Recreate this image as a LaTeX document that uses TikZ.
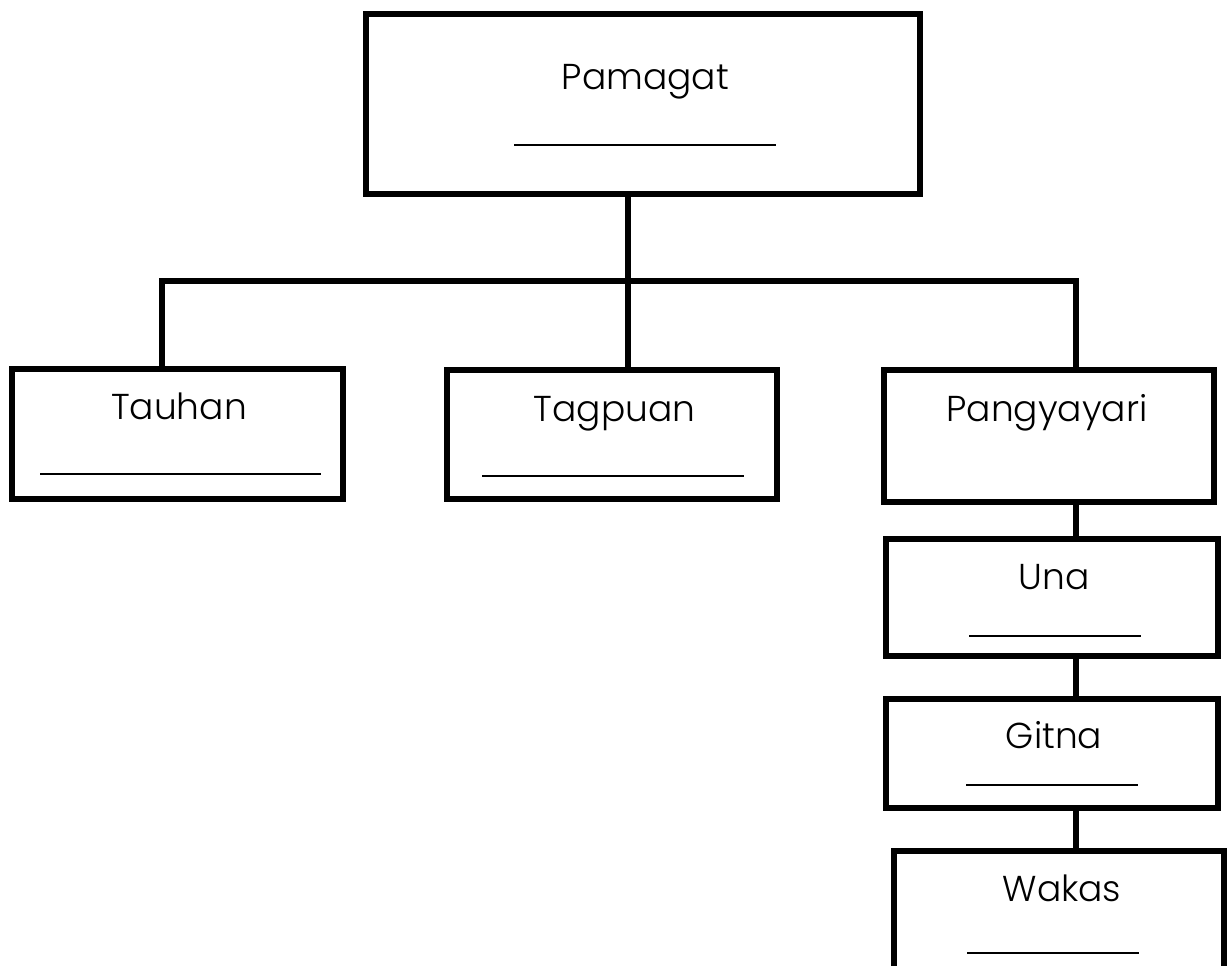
\documentclass[tikz,border=0pt]{standalone}
\usepackage{fontspec}
\setmainfont{Poppins}[UprightFont={* Light}]
\begin{document}
\begin{tikzpicture}[x=0.75pt,y=-0.75pt,
  boxnode/.style={draw=black, line width=4.5pt, inner sep=0pt, line join=miter, fill=none},
  lbl/.style={anchor=base, inner sep=0pt, font=\fontsize{27}{30}\selectfont},
  conn/.style={draw=black, line width=4.5pt, line join=miter},
  blank/.style={draw=black, line width=1.1pt}]
\useasboundingbox (0,0) rectangle (1229,965);
\clip (0,0) rectangle (1229,965);
\fill[white] (0,0) rectangle (1229,965);
% boxes
\node[boxnode, minimum width=415.5pt, minimum height=135pt] (pam) at (643,104) {};
\node[boxnode, minimum width=248.25pt, minimum height=97.5pt] (tau) at (177.5,434) {};
\node[boxnode, minimum width=247.5pt, minimum height=96.75pt] (tag) at (612,434.5) {};
\node[boxnode, minimum width=247.5pt, minimum height=99pt] (pan) at (1049,436) {};
\node[boxnode, minimum width=249pt, minimum height=87.75pt] (una) at (1052,597.5) {};
\node[boxnode, minimum width=249pt, minimum height=81.75pt] (git) at (1052,753.5) {};
\node[boxnode, minimum width=247.5pt, minimum height=120pt] (wak) at (1059,931) {};
% labels
\node[lbl] (tpam) at (645.5,89) {Pamagat};
\node[lbl] (ttau) at (179,419) {Tauhan};
\node[lbl] (ttag) at (614.5,421) {Tagpuan};
\node[lbl] (tpan) at (1047,421) {Pangyayari};
\node[lbl] (tuna) at (1054,589) {Una};
\node[lbl] (tgit) at (1054,748) {Gitna};
\node[lbl] (twak) at (1062,901) {Wakas};
% blanks
\draw[blank] (514,145) -- (776,145);
\draw[blank] (40,474) -- (321,474);
\draw[blank] (482,476) -- (744,476);
\draw[blank] (969,636) -- (1141,636);
\draw[blank] (966,785) -- (1138,785);
\draw[blank] (967,953) -- (1139,953);
% connectors
\coordinate (jl) at (162,281);
\coordinate (jm) at (628,281);
\coordinate (jr) at (1076,281);
\draw[conn] (jl |- tau.north) -- (jl) -- (jr) -- (jr |- pan.north);
\draw[conn] (jm |- pam.south) -- (jm |- tag.north);
\draw[conn] (jr |- pan.south) -- (jr |- una.north);
\draw[conn] (jr |- una.south) -- (jr |- git.north);
\draw[conn] (jr |- git.south) -- (jr |- wak.north);
\end{tikzpicture}
\end{document}
